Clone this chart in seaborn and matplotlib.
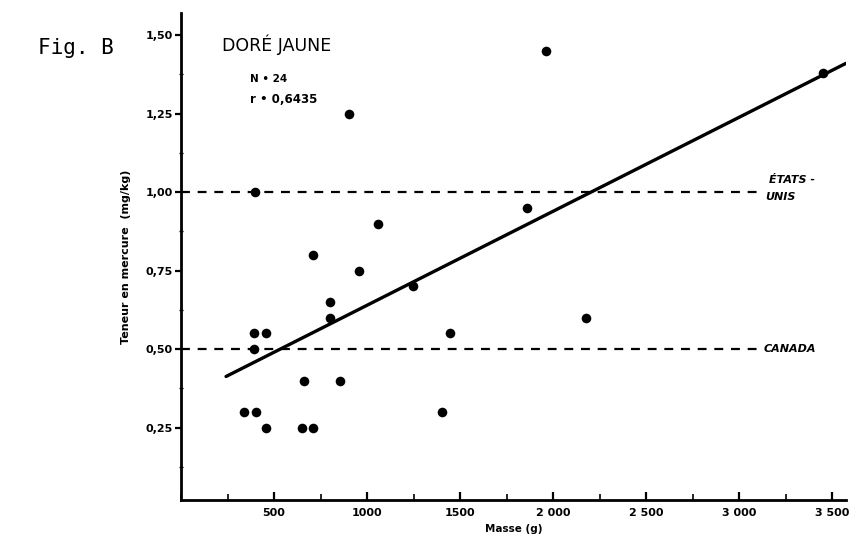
import matplotlib
matplotlib.use("Agg")
import matplotlib.pyplot as plt
import seaborn as sns
import pandas as pd
from matplotlib.ticker import FixedLocator, MultipleLocator

# Data
masse_g = [398, 392, 457, 392, 339, 403, 457, 650, 661, 710, 710, 801, 801,
           855, 903, 957, 1059, 1247, 1403, 1446, 1860, 1962, 2177, 3452]
mercure = [1.00, 0.55, 0.55, 0.50, 0.30, 0.30, 0.25, 0.25, 0.40, 0.25, 0.80, 0.65, 0.60,
           0.40, 1.25, 0.75, 0.90, 0.70, 0.30, 0.55, 0.95, 1.45, 0.60, 1.38]
fit_x = [242, 3575]
fit_y = [0.413, 1.41]
norm_levels = [1.00, 0.50]
norm_x_end = 3100
x_ticks = [500, 1000, 1500, 2000, 2500, 3000, 3500]
x_tick_labels = ["500", "1000", "1500", "2 000", "2 500", "3 000", "3 500"]
y_ticks = [0.25, 0.50, 0.75, 1.00, 1.25, 1.50]
y_tick_labels = ["0,25", "0,50", "0,75", "1,00", "1,25", "1,50"]

df = pd.DataFrame({"Masse": masse_g, "Hg": mercure})
fit = pd.DataFrame({"x": fit_x, "y": fit_y})

sns.set_style("ticks")
plt.rcParams["font.family"] = ["DejaVu Sans"]
plt.rcParams["text.color"] = "black"
plt.rcParams["axes.labelcolor"] = "black"
plt.rcParams["xtick.color"] = "black"
plt.rcParams["ytick.color"] = "black"

fig = plt.figure(figsize=(8.58, 5.44), dpi=100)
ax = fig.add_axes([0.211, 0.081, 0.775, 0.895])

for lvl in norm_levels:
    ax.plot([0, norm_x_end], [lvl, lvl], color="black", lw=1.6,
            linestyle=(0, (4, 3.5)), zorder=1)

sns.lineplot(data=fit, x="x", y="y", ax=ax, color="black", lw=2.4, zorder=2)
sns.scatterplot(data=df, x="Masse", y="Hg", ax=ax, color="black", s=48,
                edgecolor="black", linewidth=0, zorder=3)

ax.set_xlim(0, 3575)
ax.set_ylim(0.02, 1.57)

ax.xaxis.set_major_locator(FixedLocator(x_ticks))
ax.set_xticklabels(x_tick_labels, fontsize=8, fontweight="bold", color="black")
ax.xaxis.set_minor_locator(MultipleLocator(250))
ax.yaxis.set_major_locator(FixedLocator(y_ticks))
ax.set_yticklabels(y_tick_labels, fontsize=8, fontweight="bold", color="black")
ax.yaxis.set_minor_locator(MultipleLocator(0.125))

ax.tick_params(axis="x", which="both", bottom=True, top=False)
ax.tick_params(axis="y", which="both", left=True, right=False)
ax.tick_params(axis="x", which="major", direction="in", length=6, width=1.6, pad=6)
ax.tick_params(axis="x", which="minor", direction="in", length=4, width=1.2)
ax.tick_params(axis="y", which="major", direction="out", length=4, width=1.6, pad=2)
ax.tick_params(axis="y", which="minor", direction="inout", length=3, width=1.0)

for side in ["top", "right"]:
    ax.spines[side].set_visible(False)
for side in ["left", "bottom"]:
    ax.spines[side].set_linewidth(2.0)
    ax.spines[side].set_color("black")

ax.set_xlabel("Masse (g)", fontsize=7.5, fontweight="bold", labelpad=4)
ax.set_ylabel("Teneur en mercure  (mg/kg)", fontsize=8, fontweight="bold", labelpad=10)

fig.text(0.044, 0.912, "Fig. B", fontsize=15, family="DejaVu Sans Mono",
         va="center", ha="left")
ax.text(220, 1.47, "DORÉ JAUNE", fontsize=12.5, va="center", ha="left")
ax.text(370, 1.36, "N • 24", fontsize=7.5, fontweight="bold", va="center", ha="left")
ax.text(370, 1.295, "r • 0,6435", fontsize=8.5, fontweight="bold", va="center", ha="left")

ax.text(3160, 1.04, "ÉTATS -", fontsize=8, fontweight="bold", style="italic",
        va="center", ha="left")
ax.text(3140, 0.985, "UNIS", fontsize=8, fontweight="bold", style="italic",
        va="center", ha="left")
ax.text(3130, 0.50, "CANADA", fontsize=8, fontweight="bold", style="italic",
        va="center", ha="left")

fig.savefig("out.png", dpi=100, facecolor="white")
